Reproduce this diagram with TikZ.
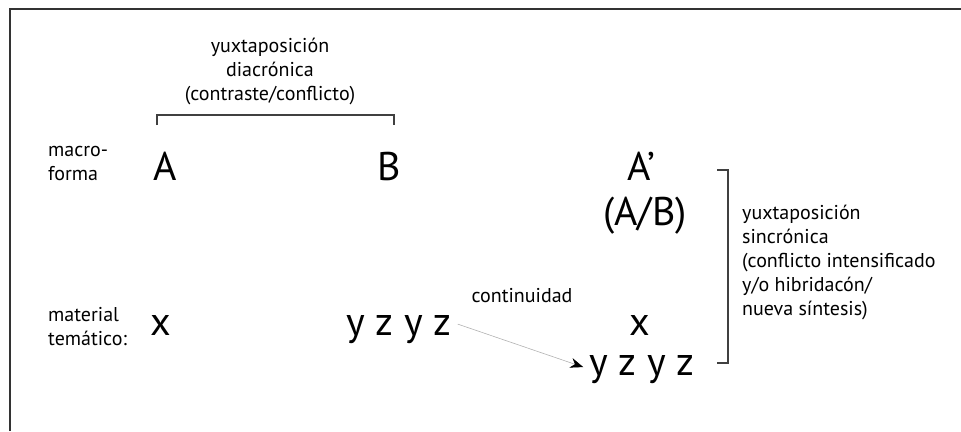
\documentclass[tikz,border=0pt]{standalone}
\usepackage{fontspec}
\setmainfont{PT Sans}
\usetikzlibrary{arrows.meta}

\begin{document}
\begin{tikzpicture}[x=1pt, y=-1pt,
  small/.style={font=\fontsize{20}{24}\selectfont, inner sep=0pt},
  big/.style={font=\fontsize{40}{44}\selectfont, inner xsep=6pt, inner ysep=0pt},
  frame/.style={draw=black!80, line width=1.5pt},
  brack/.style={draw=black!75, line width=1.2pt},
  conn/.style={draw=black!30, line width=0.6pt, -{Stealth[black, length=13pt, width=10pt]}}]
  \useasboundingbox (0,0) rectangle (961,431);
  % frame, only top and left edges
  \draw[frame] (10,431) -- (10,9) -- (961,9);

  % row labels (base = last line)
  \node[small, align=left, anchor=base west] (macro) at (48,180) {macro-\\forma};
  \node[small, align=left, anchor=base west] (mat) at (48,345) {material\\temático:};

  % macro-form
  \node[big, anchor=base] (A) at (165,180) {A};
  \node[big, anchor=base] (B) at (389,180) {B};
  \node[big, anchor=base] (Ap) at (641,180) {A'};
  \node[big, anchor=base] (AB) at (645,225) {(A/B)};

  % thematic material
  \node[big, anchor=base] (x1) at (161,335) {x};
  \node[big, anchor=base] (yz1) at (399,335) {y z y z};
  \node[big, anchor=base] (x2) at (640,335) {x};
  \node[big, anchor=base] (yz2) at (642,375) {y z y z};

  % diachronic juxtaposition
  \node[small, align=center, anchor=base] (diac) at (270,100)
    {yuxtaposición\\diacrónica\\(contraste/conflicto)};
  \draw[brack] (157,125) -- (157,115) -- (394,115) -- (394,125);

  % synchronic juxtaposition
  \draw[brack] (717,170) -- (728,170) -- (728,363) -- (717,363);
  \node[small, align=left, anchor=base west] (sinc) at (742,315)
    {yuxtaposición\\sincrónica\\(conflicto intensificado\\y/o hibridacón/\\nueva síntesis)};

  % continuity
  \node[small, anchor=base] (cont) at (522,302) {continuidad};
  \draw[conn] ([yshift=5pt]yz1.east) -- ([yshift=2pt]yz2.west);
\end{tikzpicture}
\end{document}
